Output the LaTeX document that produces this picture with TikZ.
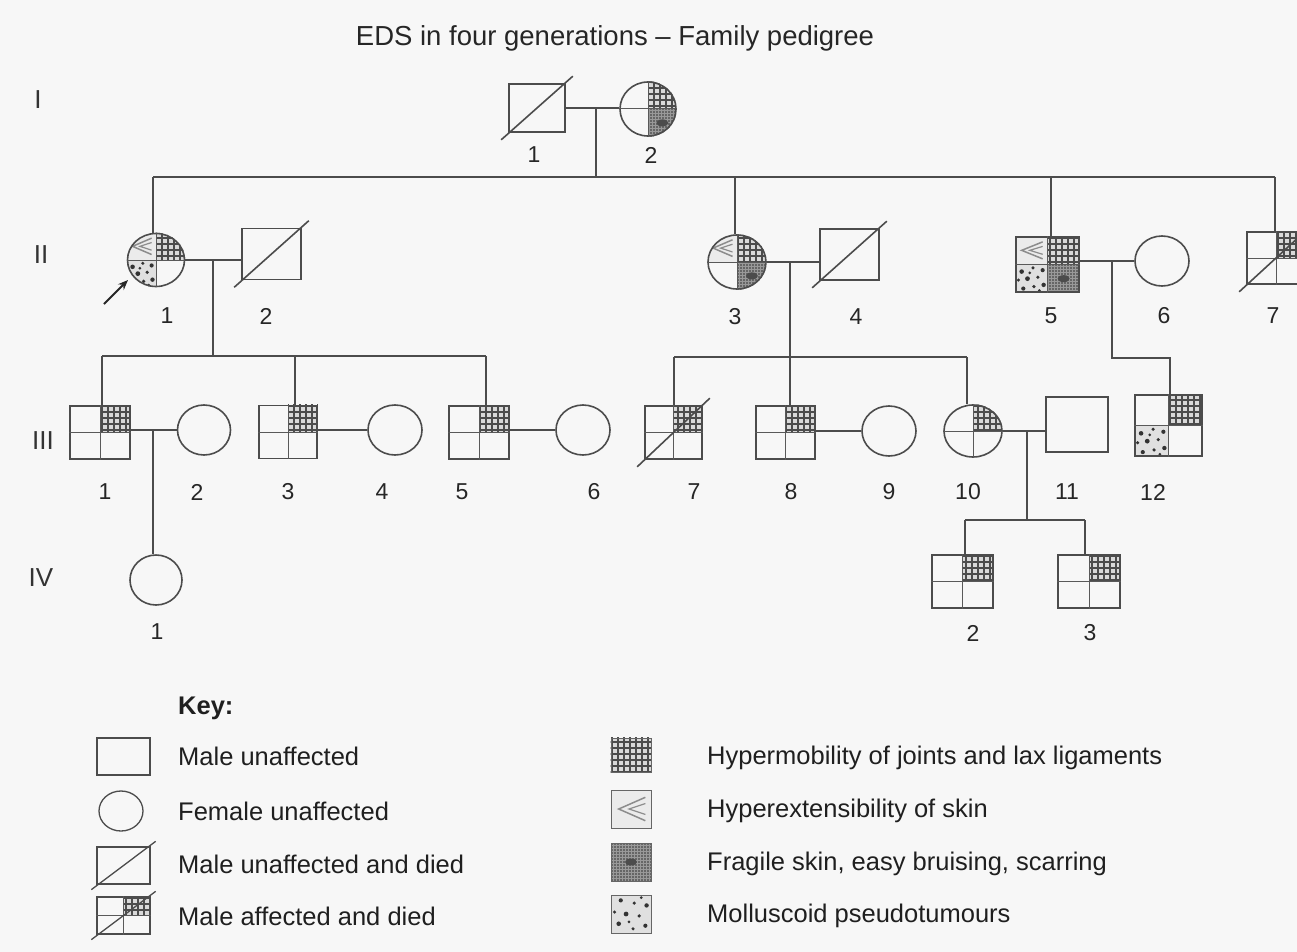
\documentclass[tikz,border=0pt]{standalone}
\usepackage{fontspec}
\setmainfont{Liberation Sans}
\usetikzlibrary{shapes.geometric,calc,patterns.meta,arrows.meta}
\pgfdeclarelayer{back}\pgfdeclarelayer{bg}\pgfsetlayers{back,bg,main}
\tikzset{
  ln/.style={draw=black!70,line width=1.6pt},
  thinln/.style={draw=black!65,line width=1pt},
  male/.style={rectangle,ln,inner sep=0pt,minimum width=58pt,minimum height=53pt},
  fem/.style={ellipse,ln,inner sep=0pt,minimum width=54pt,minimum height=50pt},
  num/.style={font=\fontsize{23}{23}\selectfont,text=black!85,inner sep=0pt},
  gen/.style={font=\fontsize{26}{26}\selectfont,text=black!80,inner sep=0pt},
  keytxt/.style={font=\fontsize{25.5}{26}\selectfont,text=black!88,anchor=base west,inner sep=0pt},
  icon/.style={rectangle,draw=black!60,line width=1pt,inner sep=0pt,minimum width=40pt,minimum height=36pt},
}
\newcommand\PGrid{%
  \fill[black!15] (qa) rectangle (qb);
  \fill[pattern={Hatch[angle=0,distance=6pt,line width=1.2pt]},pattern color=black!70] (qa) rectangle (qb);}
\newcommand\PFrag{%
  \fill[black!40] (qa) rectangle (qb);
  \fill[pattern={Dots[radius=0.9pt,distance=3pt]},pattern color=black!80] (qa) rectangle (qb);
  \fill[black!70] let \p1=(qa),\p2=(qb) in ({0.5*(\x1+\x2)},{0.5*(\y1+\y2)}) ellipse[x radius=6pt,y radius=3.5pt];}
\newcommand\PDots{%
  \fill[black!12] (qa) rectangle (qb);
  \foreach \ua/\va/\rr in {0.15/0.2/2.1,0.45/0.12/1.7,0.8/0.25/2.3,0.3/0.45/1.8,0.62/0.5/2.4,0.9/0.55/1.7,0.12/0.72/2.2,0.42/0.78/1.8,0.75/0.85/2.1,0.55/0.3/1.5,0.25/0.92/1.5}
    {\fill[black!80] let \p1=(qa),\p2=(qb) in ({\x1+\ua*(\x2-\x1)},{\y1+\va*(\y2-\y1)}) circle[radius=\rr pt];}}
\newcommand\PChev{%
  \fill[black!8] (qa) rectangle (qb);
  \draw[black!45,line width=1.5pt] let \p1=(qb),\p2=(qa) in
    ({\x1+0.85*(\x2-\x1)},{\y1+0.2*(\y2-\y1)}) -- ({\x1+0.2*(\x2-\x1)},{\y1+0.5*(\y2-\y1)}) -- ({\x1+0.85*(\x2-\x1)},{\y1+0.8*(\y2-\y1)});
  \draw[black!45,line width=1.2pt] let \p1=(qb),\p2=(qa) in
    ({\x1+0.85*(\x2-\x1)},{\y1+0.36*(\y2-\y1)}) -- ({\x1+0.45*(\x2-\x1)},{\y1+0.5*(\y2-\y1)}) -- ({\x1+0.85*(\x2-\x1)},{\y1+0.64*(\y2-\y1)});}
\newcommand\QS[4]{%
  \begin{pgfonlayer}{bg}
    \coordinate (qa) at (#1.center);
    \coordinate (qb) at (#1.#2 -| #1.#3);
    #4
  \end{pgfonlayer}}
\newcommand\QC[4]{%
  \begin{pgfonlayer}{bg}
  \begin{scope}
    \clip let \p1=($(#1.east)-(#1.center)$),\p2=($(#1.north)-(#1.center)$) in (#1.center) ellipse [x radius=\x1,y radius=\y2];
    \coordinate (qa) at (#1.center);
    \coordinate (qb) at (#1.#2 -| #1.#3);
    #4
  \end{scope}
  \end{pgfonlayer}}
\newcommand\KI[2]{%
  \begin{pgfonlayer}{bg}
    \coordinate (qa) at (#1.south east);
    \coordinate (qb) at (#1.north west);
    #2
  \end{pgfonlayer}}
\newcommand\Xcross[1]{\draw[thinln] (#1.north) -- (#1.south) (#1.west) -- (#1.east);}
\newcommand\Died[1]{\draw[ln] ($(#1.south west)+(-7,7)$) -- ($(#1.north east)+(7,-7)$);}
\begin{document}
\begin{tikzpicture}[x=1pt,y=-1pt]
\useasboundingbox (0,0) rectangle (1297,952);
\begin{pgfonlayer}{back}\fill[black!3] (0,0) rectangle (1297,952);\end{pgfonlayer}

\node[font=\fontsize{27.5}{28}\selectfont,text=black!85,anchor=base,inner sep=0pt] (title) at (615,46) {EDS in four generations – Family pedigree};

\node[gen] (gI) at (38,100) {I};
\node[gen] (gII) at (41,255) {II};
\node[gen] (gIII) at (43,441) {III};
\node[gen] (gIV) at (41,578) {IV};

% ---------- Generation I
\node[male,minimum width=56pt,minimum height=48pt] (i1) at (537,108) {};
\node[fem,minimum width=56pt,minimum height=54pt] (i2) at (648,109) {};
\Died{i1}
\QC{i2}{north}{east}{\PGrid}
\QC{i2}{south}{east}{\PFrag}
\Xcross{i2}
\node[num] (n-i1) at (534,155) {1};
\node[num] (n-i2) at (651,155) {2};

% ---------- Generation II
\node[fem,minimum width=57pt,minimum height=53pt] (ii1) at (156,260) {};
\node[male,minimum width=59pt,minimum height=51pt] (ii2) at (271.5,254) {};
\node[fem,minimum width=58pt,minimum height=54pt] (ii3) at (737,262) {};
\node[male,minimum width=59pt,minimum height=51pt] (ii4) at (849.5,254.5) {};
\node[male,minimum width=63pt,minimum height=55pt] (ii5) at (1047.5,264.5) {};
\node[fem,minimum width=54pt,minimum height=50pt] (ii6) at (1162,261) {};
\node[male,minimum width=58pt,minimum height=52pt] (ii7) at (1276,258) {};

\QC{ii1}{north}{west}{\PChev}
\QC{ii1}{north}{east}{\PGrid}
\QC{ii1}{south}{west}{\PDots}
\Xcross{ii1}
\Died{ii2}
\QC{ii3}{north}{west}{\PChev}
\QC{ii3}{north}{east}{\PGrid}
\QC{ii3}{south}{east}{\PFrag}
\Xcross{ii3}
\Died{ii4}
\QS{ii5}{north}{west}{\PChev}
\QS{ii5}{north}{east}{\PGrid}
\QS{ii5}{south}{west}{\PDots}
\QS{ii5}{south}{east}{\PFrag}
\Xcross{ii5}
\QS{ii7}{north}{east}{\PGrid}
\Xcross{ii7}
\Died{ii7}

\node[num] (n-ii1) at (167,316) {1};
\node[num] (n-ii2) at (266,316) {2};
\node[num] (n-ii3) at (735,317) {3};
\node[num] (n-ii4) at (856,317) {4};
\node[num] (n-ii5) at (1051,316) {5};
\node[num] (n-ii6) at (1164,316) {6};
\node[num] (n-ii7) at (1273,316) {7};

% proband arrow
\coordinate (pa) at (104,304);
\coordinate (pb) at (128,280);
\draw[black!85,line width=1.8pt,-{Stealth[length=10pt,width=8pt]}] (pa) -- (pb);

% ---------- Generation III
\node[male,minimum width=60pt,minimum height=53pt] (iii1) at (100,432.5) {};
\node[fem,minimum width=53pt,minimum height=50pt] (iii2) at (204,430) {};
\node[male,minimum width=58pt,minimum height=53pt] (iii3) at (288,432) {};
\node[fem,minimum width=54pt,minimum height=50pt] (iii4) at (395,430) {};
\node[male,minimum width=60pt,minimum height=53pt] (iii5) at (479,432.5) {};
\node[fem,minimum width=54pt,minimum height=50pt] (iii6) at (583,430) {};
\node[male,minimum width=57pt,minimum height=53pt] (iii7) at (673.5,432.5) {};
\node[male,minimum width=59pt,minimum height=53pt] (iii8) at (785.5,432.5) {};
\node[fem,minimum width=54pt,minimum height=50pt] (iii9) at (889,431) {};
\node[fem,minimum width=58pt,minimum height=52pt] (iii10) at (973,431) {};
\node[male,minimum width=62pt,minimum height=55pt] (iii11) at (1077,424.5) {};
\node[male,minimum width=67pt,minimum height=61pt] (iii12) at (1168.5,425.5) {};

\QS{iii1}{north}{east}{\PGrid}\Xcross{iii1}
\QS{iii3}{north}{east}{\PGrid}\Xcross{iii3}
\QS{iii5}{north}{east}{\PGrid}\Xcross{iii5}
\QS{iii7}{north}{east}{\PGrid}\Xcross{iii7}\Died{iii7}
\QS{iii8}{north}{east}{\PGrid}\Xcross{iii8}
\QC{iii10}{north}{east}{\PGrid}\Xcross{iii10}
\QS{iii12}{north}{east}{\PGrid}
\QS{iii12}{south}{west}{\PDots}\Xcross{iii12}

\node[num] (n-iii1) at (105,492) {1};
\node[num] (n-iii2) at (197,492) {2};
\node[num] (n-iii3) at (288,492) {3};
\node[num] (n-iii4) at (382,492) {4};
\node[num] (n-iii5) at (462,492) {5};
\node[num] (n-iii6) at (594,492) {6};
\node[num] (n-iii7) at (694,492) {7};
\node[num] (n-iii8) at (791,492) {8};
\node[num] (n-iii9) at (889,492) {9};
\node[num] (n-iii10) at (968,492) {10};
\node[num] (n-iii11) at (1067,492) {11};
\node[num] (n-iii12) at (1153,492) {12};

% ---------- Generation IV
\node[fem,minimum width=52pt,minimum height=50pt] (iv1) at (156,580) {};
\node[male,minimum width=61pt,minimum height=53pt] (iv2) at (962.5,581.5) {};
\node[male,minimum width=62pt,minimum height=53pt] (iv3) at (1089,581.5) {};
\QS{iv2}{north}{east}{\PGrid}\Xcross{iv2}
\QS{iv3}{north}{east}{\PGrid}\Xcross{iv3}
\node[num] (n-iv1) at (157,632) {1};
\node[num] (n-iv2) at (973,633) {2};
\node[num] (n-iv3) at (1090,633) {3};

% ---------- connectors
% I
\draw[ln] (i1.east) -- (i1.east -| i2.west);
\coordinate (d1) at (596,108);
\coordinate (s1) at (596,177);
\coordinate (s1a) at (153,177);
\coordinate (s1b) at (1275,177);
\coordinate (t3) at (735,177);
\coordinate (t5) at (1051,177);
\draw[ln] (d1) -- (s1);
\draw[ln] (s1a) -- (s1b);
\draw[ln] (s1a) -- (s1a |- ii1.north);
\draw[ln] (t3) -- (t3 |- ii3.north);
\draw[ln] (t5) -- (t5 |- ii5.north);
\draw[ln] (s1b) -- (s1b |- ii7.north);
% II-1 x II-2
\draw[ln] (ii1.east) -- (ii1.east -| ii2.west);
\coordinate (d2) at (213,260);
\coordinate (s2) at (213,356);
\coordinate (t31) at (102,356);
\coordinate (t33) at (295,356);
\coordinate (t35) at (486,356);
\draw[ln] (d2) -- (s2);
\draw[ln] (t31) -- (t35);
\draw[ln] (t31) -- (t31 |- iii1.north);
\draw[ln] (t33) -- (t33 |- iii3.north);
\draw[ln] (t35) -- (t35 |- iii5.north);
% II-3 x II-4
\draw[ln] (ii3.east) -- (ii3.east -| ii4.west);
\coordinate (d3) at (790,262);
\coordinate (t37) at (674,357);
\coordinate (t38) at (790,357);
\coordinate (t310) at (967,357);
\draw[ln] (d3) -- (t38 |- iii8.north);
\draw[ln] (t37) -- (t310);
\draw[ln] (t37) -- (t37 |- iii7.north);
\draw[ln] (t310) -- (t310 |- iii10.north);
% II-5 x II-6
\draw[ln] (ii6.west -| ii5.east) -- (ii6.west);
\coordinate (d5) at (1112,261);
\coordinate (e5) at (1112,358);
\coordinate (t312) at (1170,358);
\draw[ln] (d5) -- (e5) -- (t312) -- (t312 |- iii12.north);
% III marriages
\draw[ln] (iii2.west -| iii1.east) -- (iii2.west);
\draw[ln] (iii4.west -| iii3.east) -- (iii4.west);
\draw[ln] (iii6.west -| iii5.east) -- (iii6.west);
\draw[ln] (iii9.west -| iii8.east) -- (iii9.west);
\draw[ln] (iii10.east) -- (iii10.east -| iii11.west);
\coordinate (d31) at (153,430);
\draw[ln] (d31) -- (d31 |- iv1.north);
\coordinate (d310) at (1027,431);
\coordinate (s4) at (1027,520);
\coordinate (t42) at (965,520);
\coordinate (t43) at (1085,520);
\draw[ln] (d310) -- (s4);
\draw[ln] (t42) -- (t43);
\draw[ln] (t42) -- (t42 |- iv2.north);
\draw[ln] (t43) -- (t43 |- iv3.north);

% ---------- Key
\node[font=\fontsize{25.5}{26}\selectfont\bfseries,text=black!88,anchor=base west,inner sep=0pt] (keyh) at (178,714) {Key:};
\node[rectangle,ln,line width=1.3pt,inner sep=0pt,minimum width=53pt,minimum height=37pt] (k1) at (123.5,756.5) {};
\node[ellipse,ln,line width=1.3pt,inner sep=0pt,minimum width=44pt,minimum height=40pt] (k2) at (121,811) {};
\node[rectangle,ln,line width=1.3pt,inner sep=0pt,minimum width=53pt,minimum height=37pt] (k3) at (123.5,865.5) {};
\node[rectangle,ln,line width=1.3pt,inner sep=0pt,minimum width=53pt,minimum height=37pt] (k4) at (123.5,915.5) {};
\draw[ln,line width=1.3pt] ($(k3.south west)+(-5,5)$) -- ($(k3.north east)+(5,-5)$);
\QS{k4}{north}{east}{\PGrid}\Xcross{k4}
\draw[ln,line width=1.3pt] ($(k4.south west)+(-5,5)$) -- ($(k4.north east)+(5,-5)$);
\node[keytxt] (kt1) at (178,765) {Male unaffected};
\node[keytxt] (kt2) at (178,820) {Female unaffected};
\node[keytxt] (kt3) at (178,873) {Male unaffected and died};
\node[keytxt] (kt4) at (178,925) {Male affected and died};

\node[icon,minimum height=34pt] (k5) at (631,755) {};
\node[icon,minimum height=38pt] (k6) at (631,809) {};
\node[icon,minimum height=38pt] (k7) at (631,862) {};
\node[icon,minimum height=38pt] (k8) at (631,914) {};
\KI{k5}{\PGrid}
\KI{k6}{\PChev}
\KI{k7}{\PFrag}
\KI{k8}{\PDots}
\node[keytxt] (kt5) at (707,764) {Hypermobility of joints and lax ligaments};
\node[keytxt] (kt6) at (707,817) {Hyperextensibility of skin};
\node[keytxt] (kt7) at (707,870) {Fragile skin, easy bruising, scarring};
\node[keytxt] (kt8) at (707,922) {Molluscoid pseudotumours};
\end{tikzpicture}
\end{document}
